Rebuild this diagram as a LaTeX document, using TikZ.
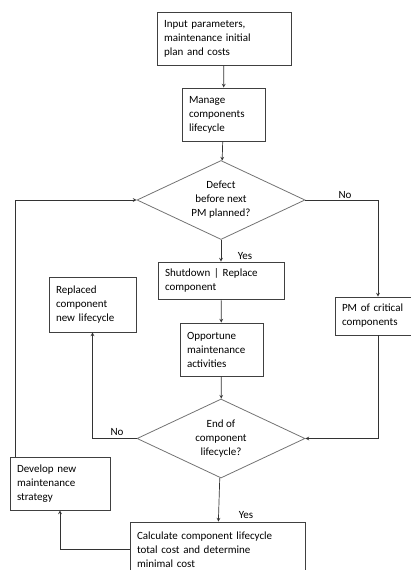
\documentclass[tikz,border=0pt]{standalone}
\usepackage{fontspec}
\setmainfont{Carlito}
\usetikzlibrary{shapes.geometric, arrows}
\tikzstyle{process} = [rectangle,
draw=black!75,
line width=0.8pt,
align=left,
inner xsep=7pt,
inner ysep=3pt,
font=\fontsize{11}{14}\selectfont]
\tikzstyle{decision} = [diamond,
draw=black!55,
line width=0.8pt,
aspect=2.1,
minimum width=168pt,
minimum height=79pt,
inner sep=0pt,
align=center,
font=\fontsize{11}{14}\selectfont]
\tikzstyle{answer} = [inner sep=0pt, font=\fontsize{11}{14}\selectfont]
\tikzstyle{arrow} = [line width=0.7pt, draw=black!80, ->, >=stealth]

\begin{document}
\begin{tikzpicture}[x=1pt, y=1pt]
\useasboundingbox (0,0) rectangle (410,-570);

\node (input) [process, text width=120pt, minimum height=53pt] at (224,-38.5) {Input parameters,\\maintenance initial\\plan and costs};
\node (manage) [process, text width=69pt, minimum height=53pt] at (223.5,-114.5) {Manage\\components\\lifecycle};
\node (dec1) [decision] at (221,-200) {Defect\\before next\\PM planned?};

\node (shut) [process, text width=112pt, minimum height=37pt] at (221,-280.5) {Shutdown | Replace\\component};
\node (opp) [process, text width=69pt, minimum height=53pt] at (221.5,-349.5) {Opportune\\maintenance\\activities};
\node (repl) [process, text width=73pt, minimum height=55pt] at (92.5,-304.5) {Replaced\\component\\new lifecycle};
\node (pm) [process, text width=72pt, minimum height=38pt] at (378,-316) {PM of critical\\components};

\node (dec2) [decision] at (221,-438.5) {End of\\component\\lifecycle?};
\node (dev) [process, text width=86pt, minimum height=53pt] at (60,-483.5) {Develop new\\maintenance\\strategy};
\node (calc) [process, text width=161pt, minimum height=55pt] at (217.5,-549.5) {Calculate component lifecycle\\total cost and determine\\minimal cost};

% answers
\node (no1) [answer] at (345,-195) {No};
\node (yes1) [answer] at (245,-256) {Yes};
\node (no2) [answer] at (117,-432) {No};
\node (yes2) [answer] at (246,-515) {Yes};

\draw [arrow] (input) -- (manage);
\draw [arrow] (manage) -- (dec1);
\draw [arrow] (dec1) -- (shut);
\draw [arrow] (dec1.east) -| (pm.north);
\draw [arrow] (pm.south) |- (dec2.east);
\draw [arrow] (shut) -- (opp);
\draw [arrow] (opp) -- (dec2);
\draw [arrow] (dec2.west) -| (repl.south);
\draw [arrow] (dec2) -- (calc);
\draw [arrow] (calc.west) -| (dev.south);
\draw [arrow] ([xshift=6pt]dev.north west) |- (dec1.west);

\end{tikzpicture}
\end{document}
